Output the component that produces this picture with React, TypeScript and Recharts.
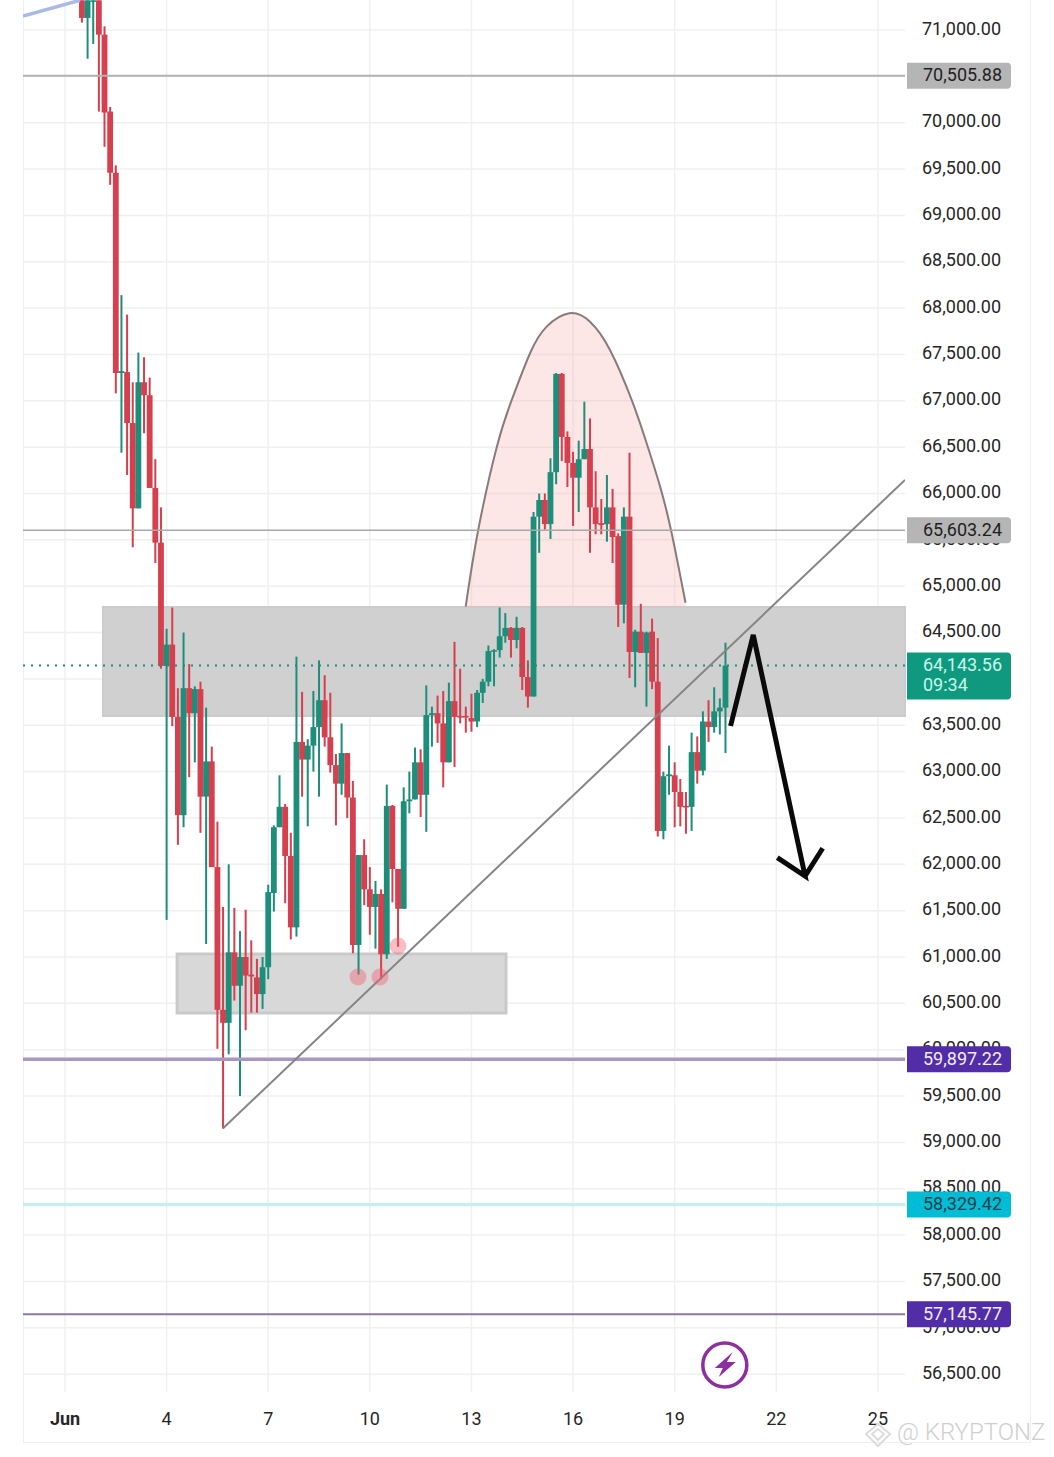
import {
  Area,
  Bar,
  CartesianGrid,
  ComposedChart,
  Line,
  ReferenceArea,
  ReferenceDot,
  ReferenceLine,
  XAxis,
  YAxis,
} from "recharts";

const RED = "#d63f4e";
const GREEN = "#1d8e7a";

// 4h candles, first one is Jun 1 12:00
const firstDay = 1.5;
const opens = [
  71320, 71130, 71320, 71320, 70950, 70120, 69460, 67300, 67310, 66760,
  65840, 67200, 67060, 66060, 65470, 64140, 64370, 63590, 62530, 63900,
  63630, 63890, 62730, 63110, 61970, 60430, 60290, 61050, 60690, 61000,
  60810, 60780, 60600, 60890, 61690, 62400, 62620, 62090, 61320, 63320,
  63130, 63280, 63480, 63770, 63370, 63070, 62870, 63200, 62720, 61130,
  62100, 61730, 61540, 61680, 61030, 62630, 61950, 61520, 62680, 62700,
  63100, 62750, 63610, 63630, 63520, 63100, 63760, 63600, 63600, 63580,
  63540, 63850, 63970, 64300, 64310, 64460, 64550, 64420, 64550, 64020,
  63810, 65750, 65930, 65670, 66230, 67290, 66610, 66330, 66170, 66370,
  66480, 65850, 65680, 65670, 65850, 65540, 64800, 65750, 64290, 64510,
  64280, 64510, 63970, 62360, 62950, 62960, 62780, 62630, 62620, 63210,
  63010, 63540, 63480, 63650, 63690,
];
const closes = [
  71130, 71320, 71320, 70950, 70110, 69460, 67300, 67320, 66760, 65840,
  67200, 67060, 66060, 65470, 64140, 64370, 63590, 62530, 63900, 63630,
  63890, 62730, 63110, 61970, 60430, 60290, 61050, 60690, 61000, 60800,
  60790, 60600, 60890, 61700, 62400, 62620, 62090, 61320, 63320, 63130,
  63280, 63480, 63770, 63370, 63070, 62870, 63200, 62720, 61130, 62100,
  61730, 61540, 61680, 61030, 62630, 61950, 61520, 62680, 62700, 63100,
  62750, 63610, 63630, 63520, 63100, 63760, 63590, 63590, 63590, 63540,
  63850, 63970, 64300, 64310, 64460, 64550, 64420, 64550, 64020, 63810,
  65750, 65930, 65670, 66230, 67290, 66610, 66330, 66170, 66370, 66480,
  65850, 65670, 65660, 65850, 65530, 64800, 65750, 64290, 64510, 64280,
  64500, 63970, 62360, 62950, 62970, 62780, 62620, 62620, 63210, 63010,
  63540, 63480, 63650, 63690, 64143.56,
];
const highs = [
  71320, 71320, 71320, 71320, 71040, 70170, 69540, 68140, 67930, 67200,
  67520, 67470, 67250, 66370, 65850, 64540, 64770, 63900, 64500, 64160,
  63920, 63970, 63690, 63270, 62460, 61540, 62000, 61530, 61280, 61510,
  61180, 60980, 61000, 61780, 62420, 62960, 62650, 62340, 64240, 63860,
  63350, 63870, 64200, 64040, 63850, 63190, 63520, 63200, 62900, 62100,
  62270, 61970, 61820, 61730, 62860, 62640, 61950, 62830, 63000, 63260,
  63240, 63930, 63700, 63820, 63870, 63960, 64400, 64110, 63700, 63840,
  63880, 64000, 64360, 64320, 64770, 64710, 64560, 64670, 64560, 64200,
  65800, 66000, 66000, 66380, 67300, 67300, 66670, 66450, 66570, 66990,
  66810, 66240, 65940, 66200, 66050, 65570, 65850, 66440, 64530, 64810,
  64510, 64650, 64440, 63000, 63280, 63100, 62920, 62780, 63420, 63380,
  63650, 63770, 63910, 63790, 64390,
];
const lows = [
  71080, 70690, 70850, 70120, 69740, 69330, 67080, 66440, 66200, 65420,
  65840, 66650, 66060, 65250, 64110, 61400, 63490, 62210, 62400, 62940,
  63100, 62340, 61140, 61970, 60010, 59150, 59950, 60530, 59500, 60210,
  60400, 60400, 60440, 60760, 61490, 62400, 61580, 61190, 61220, 62730,
  62410, 63000, 62730, 63270, 62990, 62420, 62750, 62500, 61040, 60810,
  61560, 61240, 61090, 60760, 60980, 61590, 61110, 61520, 62550, 62700,
  62510, 62350, 63270, 63310, 62830, 63100, 63050, 63520, 63420, 63430,
  63480, 63740, 63920, 63920, 64230, 64390, 64230, 64330, 63880, 63690,
  63810, 65360, 65610, 65510, 66100, 66350, 66070, 65650, 65800, 66370,
  65360, 65560, 65560, 65480, 65250, 64560, 64600, 64010, 63910, 64280,
  63700, 63890, 62300, 62270, 62750, 62400, 62410, 62330, 62360, 62870,
  62960, 63320, 63420, 63400, 63200,
];

const dayTicks = [1, 4, 7, 10, 13, 16, 19, 22, 25];
const priceTicks = [
  71000, 70500, 70000, 69500, 69000, 68500, 68000, 67500, 67000, 66500, 66000,
  65500, 65000, 64500, 64000, 63500, 63000, 62500, 62000, 61500, 61000, 60500,
  60000, 59500, 59000, 58500, 58000, 57500, 57000, 56500,
];

// drawings on the chart, as [day, price]
const domePoints = [
  [12.83, 64779], [13.2, 65606], [13.75, 66505], [14.19, 67009], [14.73, 67513],
  [15.22, 67800], [15.89, 67944], [16.5, 67853], [17.09, 67548], [17.73, 67009],
  [18.17, 66545], [18.57, 66074], [18.91, 65574], [19.32, 64822],
];
const trendPoints = [[5.66, 59150], [25.8, 66146]];
const oldTrendPoints = [[-0.24, 71151], [1.44, 71320]];
const arrowPoints = [
  [20.65, 63492], [21.32, 64474], [22.85, 61874], [22.03, 62072], [22.85, 61874], [23.37, 62173],
];
const touchDots = [[9.65, 60785], [10.3, 60785], [10.83, 61119]];

const lastPrice = 64143.56;
const priceLines = [
  { price: 70505.88, line: "#b2b2b2", width: 2, badge: "#b5b5b5", text: "#1f1f1f" },
  { price: 65603.24, line: "#a8a8a8", width: 1.5, badge: "#b5b5b5", text: "#1f1f1f" },
  { price: 59897.22, line: "#a896c4", width: 3.5, badge: "#512da8", text: "#f1ecfa" },
  { price: 58329.42, line: "#c9eef0", width: 3.5, badge: "#00bcd4", text: "#17424a" },
  { price: 57145.77, line: "#8f76a8", width: 2, badge: "#512da8", text: "#f1ecfa" },
];

const candles = opens.map((open, i) => ({
  day: firstDay + i / 6,
  open,
  close: closes[i],
  high: highs[i],
  low: lows[i],
}));
const toRows = (pts: number[][]) => pts.map(([day, price]) => ({ day, price }));

const formatPrice = (v: number) =>
  v.toLocaleString("en-US", { minimumFractionDigits: 2, maximumFractionDigits: 2 });

function Candle(props: any) {
  const { x, y, width, height, payload } = props;
  const { open, close, high, low } = payload;
  const color = close >= open ? GREEN : RED;
  const perUnit = height / (high - low);
  const cx = x + width / 2;
  const top = y + (high - Math.max(open, close)) * perUnit;
  const bodyH = Math.max(Math.abs(open - close) * perUnit, 1.6);
  return (
    <g>
      <rect x={cx - 1} y={y} width={2} height={height} fill={color} />
      <rect x={cx - 2.9} y={top} width={5.8} height={bodyH} fill={color} />
    </g>
  );
}

function PriceTick({ x, y, payload }: any) {
  return (
    <text x={x} y={y - 1.6} dy="0.35em" fontSize={18} fontFamily="Roboto" fill="#262626">
      {formatPrice(payload.value)}
    </text>
  );
}

function DayTick({ x, y, payload }: any) {
  const first = payload.value === 1;
  return (
    <text
      x={x}
      y={y + 19}
      dy="0.35em"
      textAnchor="middle"
      fontSize={18}
      fontFamily="Roboto"
      fontWeight={first ? 700 : 400}
      fill="#262626"
    >
      {first ? "Jun" : payload.value}
    </text>
  );
}

function PriceBadge({ cx, cy, bg, ink, value }: any) {
  const left = cx + 2;
  return (
    <g>
      <path
        d={`M${left} ${cy - 13}H${left + 100}a4 4 0 0 1 4 4v18a4 4 0 0 1 -4 4H${left}Z`}
        fill={bg}
      />
      <text x={cx + 18} y={cy - 1} dy="0.35em" fontSize={18} fontFamily="Roboto" fill={ink}>
        {value}
      </text>
    </g>
  );
}

function LastBadge({ cx, cy }: any) {
  const left = cx + 2;
  return (
    <g>
      <path
        d={`M${left} ${cy - 13}H${left + 100}a4 4 0 0 1 4 4v39a4 4 0 0 1 -4 4H${left}Z`}
        fill="#0f9a80"
      />
      <text x={cx + 18} y={cy - 1} dy="0.35em" fontSize={18} fontFamily="Roboto" fill="#c9f7ea">
        {formatPrice(lastPrice)}
      </text>
      <text x={cx + 18} y={cy + 19} dy="0.35em" fontSize={18} fontFamily="Roboto" fill="#c9f7ea">
        09:34
      </text>
    </g>
  );
}

function BoltIcon({ cx, cy }: any) {
  return (
    <g>
      <circle cx={cx} cy={cy} r={22} fill="#fff" stroke="#8e2f9f" strokeWidth={3.5} />
      <path
        transform={`translate(${cx} ${cy})`}
        d="M8 -13 L-10 3 L-2 3 L-6 12 L11 -3 L2 -3 Z"
        fill="#8e2f9f"
      />
    </g>
  );
}

export default function App() {
  return (
    <div style={{ position: "absolute", left: 0, top: 0, width: 1054, height: 1457, background: "#fff" }}>
      <div
        style={{
          position: "absolute",
          left: 23,
          top: -2,
          width: 1008,
          height: 1445,
          boxSizing: "border-box",
          border: "1.5px solid #efefef",
        }}
      />
      <div style={{ position: "absolute", left: 0, top: 0 }}>
        <ComposedChart
          width={1054}
          height={1457}
          data={candles}
          margin={{ top: 0, right: 0, left: 23, bottom: 0 }}
          barSize={6}
        >
          <CartesianGrid stroke="#f0f0f0" strokeWidth={1.5} syncWithTicks />
          <XAxis
            dataKey="day"
            type="number"
            domain={[-0.24, 25.8]}
            ticks={dayTicks}
            height={65}
            interval={0}
            axisLine={false}
            tickLine={false}
            tick={<DayTick />}
            allowDataOverflow
          />
          <YAxis
            orientation="right"
            type="number"
            domain={[56307.5, 71323.6]}
            ticks={priceTicks}
            width={149}
            interval={0}
            axisLine={false}
            tickLine={false}
            tickMargin={11}
            tick={<PriceTick />}
            allowDataOverflow
          />
          <ReferenceArea
            x1={2.12}
            x2={25.8}
            y1={63600}
            y2={64776}
            fill="#d0d0d0"
            fillOpacity={1}
            stroke="#cccccc"
            strokeWidth={2}
          />
          <ReferenceArea
            x1={4.31}
            x2={14.02}
            y1={60396}
            y2={61033}
            fill="#d8d8d8"
            fillOpacity={1}
            stroke="#c9c9c9"
            strokeWidth={3}
          />
          <Area
            data={toRows(domePoints)}
            dataKey="price"
            type="natural"
            baseValue={64776}
            stroke="#8a7a7a"
            strokeWidth={2}
            fill="#f9a3a3"
            fillOpacity={0.27}
            dot={false}
            activeDot={false}
            isAnimationActive={false}
          />
          {priceLines.map((l) => (
            <ReferenceLine key={l.price} y={l.price} stroke={l.line} strokeWidth={l.width} />
          ))}
          <ReferenceLine y={lastPrice} stroke={GREEN} strokeWidth={2} strokeDasharray="2 6" />
          <Bar
            dataKey={(d: any) => [d.low, d.high]}
            shape={<Candle />}
            isAnimationActive={false}
          />
          {touchDots.map(([day, price]) => (
            <ReferenceDot
              key={day}
              x={day}
              y={price}
              r={8.5}
              fill="#ef5a6a"
              fillOpacity={0.4}
              stroke="none"
            />
          ))}
          <Line
            data={toRows(oldTrendPoints)}
            dataKey="price"
            stroke="#aab9e8"
            strokeWidth={3.5}
            dot={false}
            activeDot={false}
            isAnimationActive={false}
          />
          <Line
            data={toRows(trendPoints)}
            dataKey="price"
            stroke="#858585"
            strokeWidth={2}
            dot={false}
            activeDot={false}
            isAnimationActive={false}
          />
          <Line
            data={toRows(arrowPoints)}
            dataKey="price"
            stroke="#0a0a0a"
            strokeWidth={5}
            strokeLinejoin="miter"
            dot={false}
            activeDot={false}
            isAnimationActive={false}
          />
          <ReferenceDot x={20.48} y={56599} shape={<BoltIcon />} />
          {priceLines.map((l) => (
            <ReferenceDot
              key={l.price}
              x={25.8}
              y={l.price}
              ifOverflow="visible"
              zIndex={5000}
              shape={<PriceBadge bg={l.badge} ink={l.text} value={formatPrice(l.price)} />}
            />
          ))}
          <ReferenceDot x={25.8} y={lastPrice} ifOverflow="visible" zIndex={5000} shape={<LastBadge />} />
        </ComposedChart>
      </div>
      <div
        style={{
          position: "absolute",
          left: 897,
          top: 1418,
          fontFamily: "Roboto",
          fontWeight: 300,
          fontSize: 24,
          color: "#cfcfcf",
          whiteSpace: "nowrap",
        }}
      >
        @ KRYPTONZ
      </div>
      <svg style={{ position: "absolute", left: 864, top: 1422 }} width={28} height={26}>
        <path d="M14 2 L26 12 L14 24 L2 12 Z M8 12 L14 7 L20 12 L14 18 Z" fill="none" stroke="#dcdcdc" strokeWidth={2} />
      </svg>
    </div>
  );
}
